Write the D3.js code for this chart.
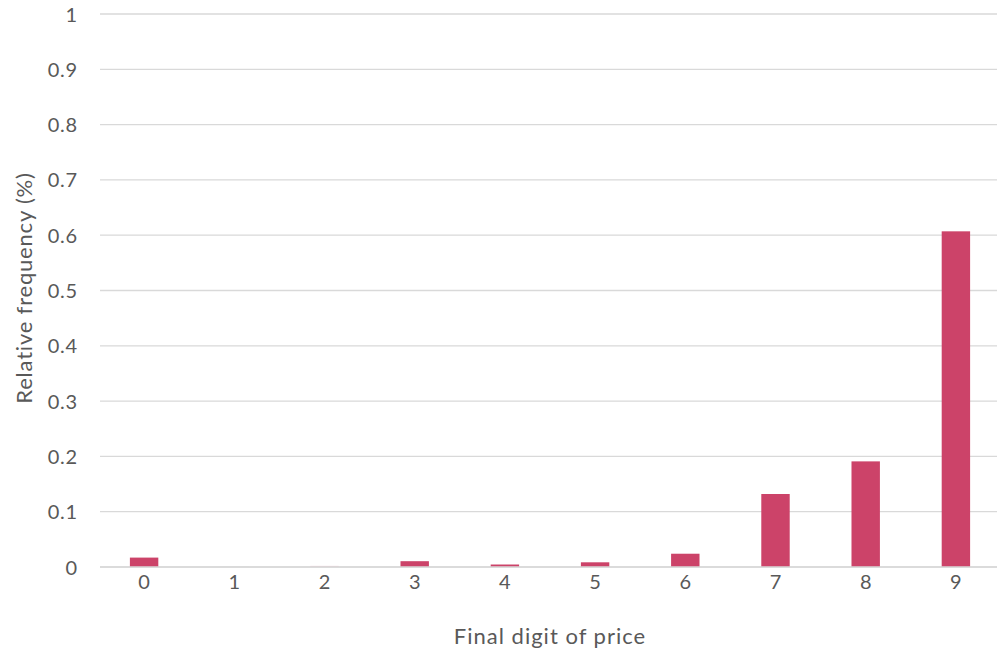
<!DOCTYPE html>
<html><head><meta charset="utf-8">
<script src="https://cdn.jsdelivr.net/npm/d3@7/dist/d3.min.js"></script>
<style>body{margin:0;background:#fff}svg{display:block}text{font-family:Lato,sans-serif;fill:#595959}</style>
</head><body>
<script>
const categories = ["0","1","2","3","4","5","6","7","8","9"];
const values = [0.017, 0.0006, 0.002, 0.0105, 0.0045, 0.0085, 0.024, 0.132, 0.191, 0.607];
const yTicks = [0,0.1,0.2,0.3,0.4,0.5,0.6,0.7,0.8,0.9,1];
const barColors = ["#cc4369","#d9d9d9","#e8c9d2","#cc4369","#cc4369","#cc4369","#cc4369","#cc4369","#cc4369","#cc4369"];

const W=997,H=651;
const svg=d3.select("body").append("svg").attr("width",W).attr("height",H);
const x=d3.scaleBand().domain(categories).range([99,1001]).paddingInner(0.685).paddingOuter(0.3425);
const y=d3.scaleLinear().domain([0,1]).range([567,14]);

const grid=svg.append("g");
grid.selectAll("line").data(yTicks).join("line")
  .attr("x1",100).attr("x2",997).attr("y1",d=>y(d)).attr("y2",d=>y(d))
  .attr("stroke","#d9d9d9").attr("stroke-width",1.3);

svg.append("g").selectAll("rect").data(values).join("rect")
  .attr("x",(d,i)=>x(categories[i])).attr("width",x.bandwidth())
  .attr("y",d=>y(d)).attr("height",d=>y(0)-y(d))
  .attr("fill",(d,i)=>barColors[i]);

const yAxis=d3.axisLeft(y).tickValues(yTicks).tickSize(0).tickPadding(0).tickFormat(d=>String(+d.toFixed(1)));
const ya=svg.append("g").attr("transform","translate(78,0)").call(yAxis);
ya.select(".domain").remove();
ya.selectAll("text").attr("font-size",20).style("font-family","Lato").style("letter-spacing","0.8px").attr("fill","#595959").attr("dy","0.35em");

const xAxis=d3.axisBottom(x).tickSize(0).tickPadding(0);
const xa=svg.append("g").attr("transform","translate(0,575)").call(xAxis);
xa.select(".domain").remove();
xa.selectAll("text").attr("font-size",20).style("font-family","Lato").attr("fill","#595959").attr("dy","0.71em");

svg.append("line").attr("x1",100).attr("x2",997).attr("y1",y(0)).attr("y2",y(0)).attr("stroke","#d9d9d9").attr("stroke-width",1.3);

svg.append("text").attr("x",550).attr("y",644).attr("text-anchor","middle").attr("font-size",22).style("letter-spacing","1px").text("Final digit of price");
svg.append("text").attr("transform","translate(32,288) rotate(-90)").attr("text-anchor","middle").attr("font-size",22).style("letter-spacing","0.8px").text("Relative frequency (%)");
</script>
</body></html>
